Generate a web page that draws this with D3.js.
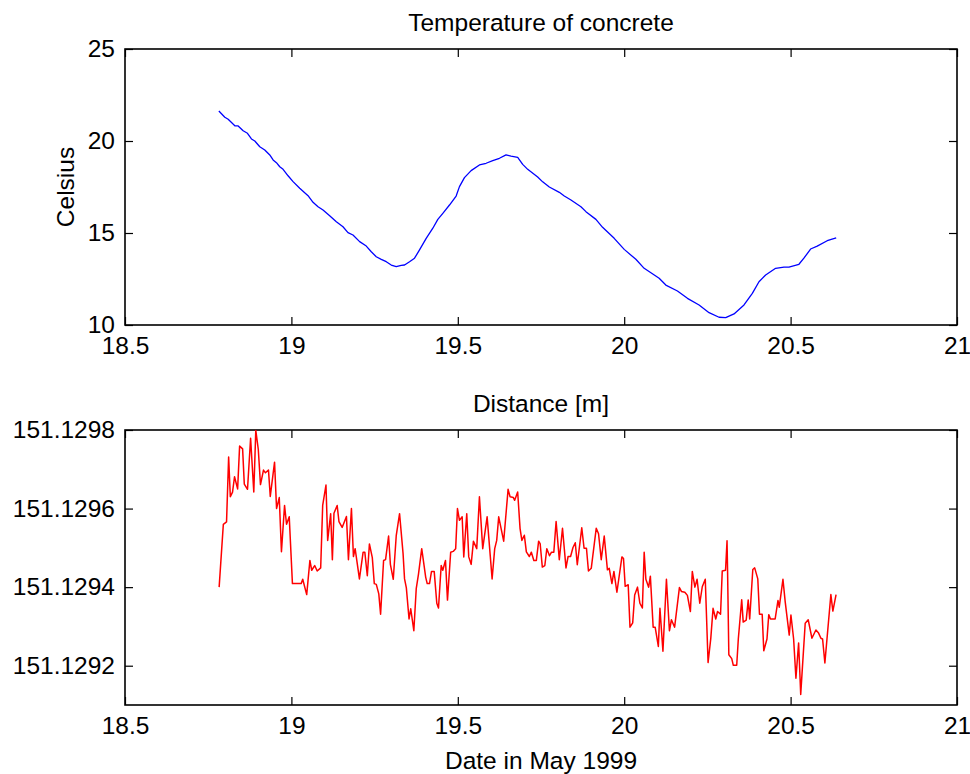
<!DOCTYPE html>
<html>
<head>
<meta charset="utf-8">
<script src="https://cdn.jsdelivr.net/npm/d3@7"></script>
<style>
  body { margin: 0; background: #fff; }
  svg text { font-family: "Liberation Sans", Arial, Helvetica, sans-serif; fill: #000; }
</style>
</head>
<body>
<svg id="chart" width="970" height="774"></svg>
<script>
// temperature of concrete (days in May 1999, Celsius)
const tempDays = [18.782, 18.800, 18.810, 18.830, 18.840, 18.855, 18.868, 18.880, 18.890, 18.905,
  18.920, 18.935, 18.945, 18.955, 18.965, 18.975, 18.990, 19.005, 19.025, 19.050,
  19.065, 19.080, 19.095, 19.115, 19.135, 19.155, 19.170, 19.185, 19.205, 19.225,
  19.240, 19.255, 19.270, 19.285, 19.300, 19.315, 19.330, 19.340, 19.355, 19.370,
  19.385, 19.405, 19.425, 19.440, 19.455, 19.475, 19.495, 19.505, 19.520, 19.540,
  19.565, 19.585, 19.605, 19.625, 19.645, 19.660, 19.680, 19.695, 19.710, 19.740,
  19.755, 19.775, 19.805, 19.820, 19.840, 19.870, 19.885, 19.915, 19.935, 19.970,
  20.000, 20.035, 20.060, 20.105, 20.125, 20.160, 20.190, 20.225, 20.255, 20.285,
  20.305, 20.330, 20.360, 20.385, 20.405, 20.425, 20.455, 20.480, 20.495, 20.525,
  20.540, 20.560, 20.580, 20.610, 20.637];
const tempCelsius = [21.63, 21.29, 21.18, 20.83, 20.82, 20.56, 20.42, 20.11, 20.00, 19.69,
  19.51, 19.24, 18.97, 18.82, 18.60, 18.46, 18.11, 17.79, 17.43, 17.03,
  16.67, 16.43, 16.25, 15.94, 15.61, 15.34, 15.02, 14.89, 14.53, 14.29,
  13.98, 13.71, 13.57, 13.44, 13.26, 13.17, 13.24, 13.26, 13.44, 13.63,
  14.08, 14.71, 15.26, 15.74, 16.07, 16.52, 17.01, 17.52, 18.01, 18.39,
  18.70, 18.79, 18.93, 19.06, 19.25, 19.18, 19.11, 18.73, 18.46, 18.04,
  17.78, 17.50, 17.21, 17.01, 16.79, 16.43, 16.16, 15.74, 15.31, 14.71,
  14.11, 13.57, 13.08, 12.54, 12.17, 11.85, 11.45, 11.09, 10.67, 10.42,
  10.40, 10.60, 11.09, 11.72, 12.35, 12.72, 13.08, 13.14, 13.14, 13.30,
  13.63, 14.13, 14.29, 14.58, 14.74];

// measured distance (days in May 1999, metres)
const distDays = [18.7829, 18.7955, 18.8051, 18.8114, 18.8165, 18.8231, 18.8291, 18.8384, 18.8444, 18.8534,
  18.8585, 18.8681, 18.8774, 18.8870, 18.8930, 18.9005, 18.9071, 18.9161, 18.9221, 18.9311,
  18.9365, 18.9494, 18.9554, 18.9635, 18.9701, 18.9794, 18.9854, 18.9935, 19.0031, 19.0160,
  19.0295, 19.0340, 19.0460, 19.0556, 19.0610, 19.0700, 19.0775, 19.0880, 19.0940, 19.1039,
  19.1090, 19.1180, 19.1231, 19.1279, 19.1375, 19.1429, 19.1525, 19.1654, 19.1714, 19.1804,
  19.1864, 19.1915, 19.2044, 19.2155, 19.2206, 19.2281, 19.2344, 19.2431, 19.2491, 19.2551,
  19.2626, 19.2680, 19.2770, 19.2830, 19.2920, 19.2974, 19.3061, 19.3151, 19.3250, 19.3355,
  19.3400, 19.3454, 19.3535, 19.3586, 19.3679, 19.3751, 19.3820, 19.3916, 19.4036, 19.4081,
  19.4150, 19.4210, 19.4291, 19.4369, 19.4420, 19.4501, 19.4549, 19.4630, 19.4690, 19.4786,
  19.4861, 19.4936, 19.4990, 19.5050, 19.5131, 19.5179, 19.5269, 19.5329, 19.5401, 19.5470,
  19.5569, 19.5650, 19.5749, 19.5881, 19.6031, 19.6109, 19.6169, 19.6229, 19.6379, 19.6511,
  19.6571, 19.6670, 19.6709, 19.6799, 19.6871, 19.6925, 19.7000, 19.7060, 19.7150, 19.7210,
  19.7285, 19.7360, 19.7429, 19.7474, 19.7540, 19.7615, 19.7675, 19.7756, 19.7816, 19.7885,
  19.7954, 19.8050, 19.8146, 19.8251, 19.8314, 19.8389, 19.8461, 19.8530, 19.8590, 19.8725,
  19.8794, 19.8866, 19.8926, 19.9010, 19.9160, 19.9229, 19.9310, 19.9400, 19.9496, 19.9550,
  19.9631, 19.9691, 19.9781, 19.9931, 19.9979, 20.0030, 20.0120, 20.0174, 20.0255, 20.0315,
  20.0399, 20.0471, 20.0546, 20.0600, 20.0651, 20.0735, 20.0786, 20.0870, 20.0930, 20.1026,
  20.1074, 20.1164, 20.1269, 20.1359, 20.1419, 20.1515, 20.1659, 20.1719, 20.1821, 20.1899,
  20.1989, 20.2046, 20.2124, 20.2190, 20.2271, 20.2346, 20.2436, 20.2520, 20.2601, 20.2670,
  20.2751, 20.2805, 20.2895, 20.2946, 20.3045, 20.3090, 20.3105, 20.3144, 20.3231, 20.3279,
  20.3381, 20.3429, 20.3531, 20.3576, 20.3666, 20.3726, 20.3771, 20.3864, 20.3921, 20.4014,
  20.4065, 20.4146, 20.4194, 20.4290, 20.4344, 20.4395, 20.4536, 20.4620, 20.4659, 20.4770,
  20.4839, 20.4959, 20.5010, 20.5091, 20.5160, 20.5241, 20.5304, 20.5439, 20.5529, 20.5640,
  20.5760, 20.5841, 20.5910, 20.5961, 20.6030, 20.6210, 20.6270, 20.6366];
const distMeters = [151.129400, 151.129560, 151.129566, 151.129731, 151.129630, 151.129642, 151.129681, 151.129650, 151.129759, 151.129752,
  151.129662, 151.129649, 151.129779, 151.129642, 151.129799, 151.129751, 151.129661, 151.129698, 151.129691, 151.129698,
  151.129631, 151.129718, 151.129600, 151.129628, 151.129490, 151.129608, 151.129560, 151.129579, 151.129409, 151.129409,
  151.129409, 151.129420, 151.129381, 151.129468, 151.129443, 151.129455, 151.129441, 151.129449, 151.129608, 151.129660,
  151.129519, 151.129587, 151.129470, 151.129588, 151.129608, 151.129567, 151.129552, 151.129580, 151.129470, 151.129600,
  151.129478, 151.129498, 151.129421, 151.129489, 151.129489, 151.129429, 151.129510, 151.129475, 151.129409, 151.129407,
  151.129383, 151.129331, 151.129468, 151.129470, 151.129530, 151.129458, 151.129420, 151.129532, 151.129587, 151.129486,
  151.129421, 151.129398, 151.129319, 151.129345, 151.129289, 151.129396, 151.129434, 151.129498, 151.129425, 151.129409,
  151.129409, 151.129440, 151.129440, 151.129359, 151.129347, 151.129455, 151.129443, 151.129468, 151.129367, 151.129489,
  151.129491, 151.129498, 151.129600, 151.129570, 151.129579, 151.129477, 151.129587, 151.129477, 151.129458, 151.129517,
  151.129498, 151.129630, 151.129498, 151.129579, 151.129421, 151.129498, 151.129519, 151.129579, 151.129517, 151.129649,
  151.129630, 151.129628, 151.129621, 151.129642, 151.129549, 151.129519, 151.129532, 151.129490, 151.129478, 151.129489,
  151.129468, 151.129468, 151.129517, 151.129511, 151.129451, 151.129455, 151.129498, 151.129480, 151.129489, 151.129489,
  151.129567, 151.129470, 151.129550, 151.129449, 151.129478, 151.129478, 151.129501, 151.129513, 151.129457, 151.129551,
  151.129499, 151.129499, 151.129441, 151.129448, 151.129550, 151.129536, 151.129470, 151.129530, 151.129444, 151.129448,
  151.129409, 151.129440, 151.129387, 151.129477, 151.129473, 151.129402, 151.129406, 151.129298, 151.129309, 151.129380,
  151.129400, 151.129359, 151.129347, 151.129489, 151.129420, 151.129400, 151.129428, 151.129298, 151.129298, 151.129249,
  151.129346, 151.129237, 151.129420, 151.129289, 151.129317, 151.129298, 151.129399, 151.129389, 151.129387, 151.129379,
  151.129338, 151.129440, 151.129400, 151.129420, 151.129359, 151.129401, 151.129420, 151.129208, 151.129269, 151.129346,
  151.129319, 151.129338, 151.129331, 151.129441, 151.129443, 151.129518, 151.129448, 151.129228, 151.129218, 151.129201,
  151.129201, 151.129268, 151.129368, 151.129311, 151.129316, 151.129367, 151.129319, 151.129445, 151.129449, 151.129421,
  151.129331, 151.129331, 151.129238, 151.129268, 151.129330, 151.129319, 151.129319, 151.129366, 151.129349, 151.129420,
  151.129362, 151.129278, 151.129329, 151.129268, 151.129168, 151.129258, 151.129127, 151.129308, 151.129317, 151.129270,
  151.129291, 151.129283, 151.129270, 151.129268, 151.129207, 151.129381, 151.129339, 151.129381];

const dayTicks = [18.5, 19, 19.5, 20, 20.5, 21];
const celsiusTicks = [10, 15, 20, 25];
const distTicks = [151.1292, 151.1294, 151.1296, 151.1298];

const svg = d3.select("#chart");
const left = 125, right = 957;
const fontSize = 24.5;

const x = d3.scaleLinear().domain([18.5, 21]).range([left, right]);
const fmtDay = d => d3.format("~g")(d);

function drawPanel(top, bottom, yDomain, yTicks, yFmt, xs, ys, color, lineWidth) {
    const y = d3.scaleLinear().domain(yDomain).range([bottom, top]);

    const g = svg.append("g");

    // frame
    g.append("rect")
        .attr("x", left).attr("y", top)
        .attr("width", right - left).attr("height", bottom - top)
        .attr("fill", "none").attr("stroke", "#000").attr("stroke-width", 1.6);

    const styleAxis = (a) => {
        a.select(".domain").remove();
        a.selectAll(".tick line").attr("stroke", "#000").attr("stroke-width", 1.2);
        a.selectAll(".tick text").attr("font-size", fontSize).attr("fill", "#000");
    };

    // bottom + top ticks (inward)
    g.append("g").attr("transform", `translate(0,${bottom})`)
        .call(d3.axisBottom(x).tickValues(dayTicks).tickFormat(fmtDay).tickSize(-8).tickPadding(12))
        .call(styleAxis);
    g.append("g").attr("transform", `translate(0,${top})`)
        .call(d3.axisTop(x).tickValues(dayTicks).tickFormat("").tickSize(-8))
        .call(styleAxis);

    // left + right ticks (inward)
    g.append("g").attr("transform", `translate(${left},0)`)
        .call(d3.axisLeft(y).tickValues(yTicks).tickFormat(yFmt).tickSize(-8).tickPadding(10))
        .call(styleAxis);
    g.append("g").attr("transform", `translate(${right},0)`)
        .call(d3.axisRight(y).tickValues(yTicks).tickFormat("").tickSize(-8))
        .call(styleAxis);

    g.selectAll(".tick text").attr("font-family", null);

    const pts = xs.map((d, i) => [d, ys[i]]);
    g.append("path")
        .datum(pts)
        .attr("fill", "none")
        .attr("stroke", color)
        .attr("stroke-width", lineWidth)
        .attr("stroke-linejoin", "round")
        .attr("d", d3.line().x(d => x(d[0])).y(d => y(d[1])));

    return y;
}

drawPanel(49, 325, [10, 25], celsiusTicks, d => d, tempDays, tempCelsius, "#0000ff", 1.3);
drawPanel(430, 705, [151.1291, 151.1298], distTicks, d3.format(".4f"), distDays, distMeters, "#ff0000", 1.5);

// titles and labels
svg.append("text")
    .attr("x", (left + right) / 2).attr("y", 31)
    .attr("text-anchor", "middle").attr("font-size", fontSize)
    .text("Temperature of concrete");

svg.append("text")
    .attr("transform", `translate(74,${(49 + 325) / 2}) rotate(-90)`)
    .attr("text-anchor", "middle").attr("font-size", fontSize)
    .text("Celsius");

svg.append("text")
    .attr("x", (left + right) / 2).attr("y", 412)
    .attr("text-anchor", "middle").attr("font-size", fontSize)
    .text("Distance [m]");

svg.append("text")
    .attr("x", (left + right) / 2).attr("y", 769)
    .attr("text-anchor", "middle").attr("font-size", fontSize)
    .text("Date in May 1999");
</script>
</body>
</html>
